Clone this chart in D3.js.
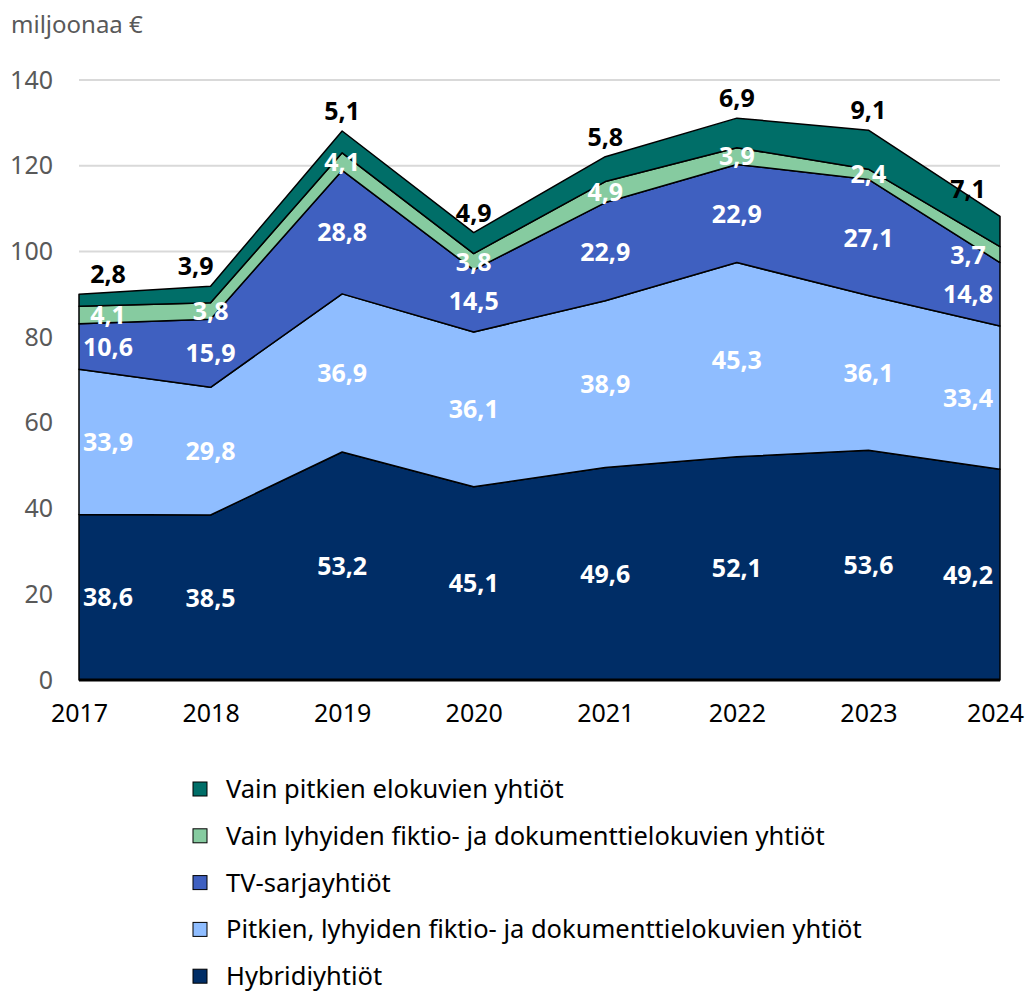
<!DOCTYPE html>
<html>
<head>
<meta charset="utf-8">
<style>
  body { margin: 0; background: #fff; font-family: "Noto Sans", sans-serif; }
  .grid line { stroke: #d9d9d9; stroke-width: 2px; }
  .axisy text { fill: #595959; font-size: 25px; font-family: "Noto Sans", sans-serif; }
  .axisx text { fill: #000; font-size: 25px; font-family: "Noto Sans", sans-serif; }
</style>
</head>
<body>
<script src="https://cdn.jsdelivr.net/npm/d3@7"></script>
<script>
// values in millions of euros
var years = ["2017", "2018", "2019", "2020", "2021", "2022", "2023", "2024"];
var hybridi = [38.6, 38.5, 53.2, 45.1, 49.6, 52.1, 53.6, 49.2];
var pitkienLyhyiden = [33.9, 29.8, 36.9, 36.1, 38.9, 45.3, 36.1, 33.4];
var tvSarja = [10.6, 15.9, 28.8, 14.5, 22.9, 22.9, 27.1, 14.8];
var vainLyhyiden = [4.1, 3.8, 4.1, 3.8, 4.9, 3.9, 2.4, 3.7];
var vainPitkien = [2.8, 3.9, 5.1, 4.9, 5.8, 6.9, 9.1, 7.1];
var yTicks = [0, 20, 40, 60, 80, 100, 120, 140];

// bottom to top
var series = [
  {name: "Hybridiyhtiöt", values: hybridi, color: "#002d66"},
  {name: "Pitkien, lyhyiden fiktio- ja dokumenttielokuvien yhtiöt", values: pitkienLyhyiden, color: "#8fbdff"},
  {name: "TV-sarjayhtiöt", values: tvSarja, color: "#3f60c0"},
  {name: "Vain lyhyiden fiktio- ja dokumenttielokuvien yhtiöt", values: vainLyhyiden, color: "#86cba0"},
  {name: "Vain pitkien elokuvien yhtiöt", values: vainPitkien, color: "#006e68"}
];

var width = 1028, height = 992;
var margin = {left: 79, right: 28, top: 80, bottom: 312};

var svg = d3.select("body").append("svg")
    .attr("width", width).attr("height", height);

var x = d3.scalePoint().domain(years).range([margin.left, width - margin.right]);
var y = d3.scaleLinear().domain([0, 140]).range([height - margin.bottom, margin.top]);

var table = years.map(function(yr, i) {
  var row = {year: yr};
  series.forEach(function(s) { row[s.name] = s.values[i]; });
  return row;
});
var stacked = d3.stack().keys(series.map(function(s) { return s.name; }))(table);

// grid
svg.append("g").attr("class", "grid")
  .selectAll("line").data(yTicks.filter(function(t) { return t > 0; })).join("line")
  .attr("x1", margin.left).attr("x2", width - margin.right)
  .attr("y1", function(d) { return y(d); }).attr("y2", function(d) { return y(d); });

// y axis labels
var yAxis = svg.append("g").attr("class", "axisy")
  .attr("transform", "translate(" + (margin.left - 26) + ",0)")
  .call(d3.axisLeft(y).tickValues(yTicks).tickSize(0).tickPadding(0));
yAxis.select(".domain").remove();

svg.append("text").attr("x", 11).attr("y", 33)
  .attr("fill", "#595959").attr("font-size", 24).text("miljoonaa €");

// areas
var area = d3.area()
  .x(function(d, i) { return x(years[i]); })
  .y0(function(d) { return y(d[0]); })
  .y1(function(d) { return y(d[1]); });

svg.append("g").selectAll("path").data(stacked).join("path")
  .attr("d", area)
  .attr("fill", function(d, i) { return series[i].color; })
  .attr("stroke", "#000").attr("stroke-width", 1.5)
  .attr("stroke-linejoin", "round");

// baseline
svg.append("line")
  .attr("x1", margin.left).attr("x2", width - margin.right)
  .attr("y1", y(0)).attr("y2", y(0))
  .attr("stroke", "#000").attr("stroke-width", 3);

// x axis
var xAxis = svg.append("g").attr("class", "axisx")
  .attr("transform", "translate(0," + (y(0) + 18) + ")")
  .call(d3.axisBottom(x).tickSize(0).tickPadding(6));
xAxis.select(".domain").remove();
xAxis.selectAll(".tick text").filter(function(d) { return d === years[years.length - 1]; })
  .attr("dx", -5);

// value labels
function labelX(i) {
  if (i === 0) return x(years[i]) + 29;
  if (i === years.length - 1) return x(years[i]) - 32;
  return x(years[i]);
}
var labelLayer = svg.append("g").attr("font-weight", "bold").attr("font-size", 25)
  .attr("text-anchor", "middle");

stacked.forEach(function(layer, si) {
  var isTop = si === stacked.length - 1;
  labelLayer.selectAll(null).data(layer).join("text")
    .attr("x", function(d, i) {
      // 2018 total label sits left of the rising edge
      return labelX(i) + (isTop && i === 1 ? -15 : 0);
    })
    .attr("y", function(d, i) {
      if (!isTop) return y((d[0] + d[1]) / 2) + 9;
      return y(d[1]) - (i === years.length - 1 ? 18 : 11);
    })
    .attr("fill", isTop ? "#000" : "#fff")
    .text(function(d) { return d3.format(".1f")(d[1] - d[0]).replace(".", ","); });
});

// legend, top series first
var legend = svg.append("g").attr("transform", "translate(193,789)");
var items = legend.selectAll("g").data(series.slice().reverse()).join("g")
  .attr("transform", function(d, i) { return "translate(0," + (i * 46.8) + ")"; });
items.append("rect").attr("x", 0).attr("y", -7).attr("width", 14).attr("height", 14)
  .attr("fill", function(d) { return d.color; })
  .attr("stroke", "#000").attr("stroke-width", 1);
items.append("text").attr("x", 33).attr("y", 9).attr("font-size", 25.5)
  .attr("fill", "#000").text(function(d) { return d.name; });
</script>
</body>
</html>
